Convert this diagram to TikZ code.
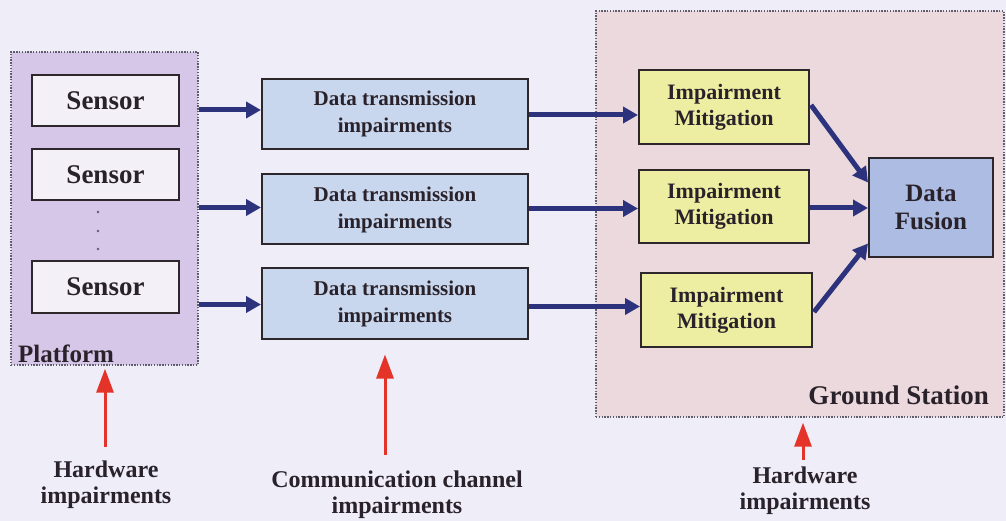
\documentclass[tikz,border=0pt]{standalone}
\usepackage{fontspec}
\setmainfont{Liberation Serif}
\usetikzlibrary{arrows.meta,calc}

\definecolor{bgcol}{RGB}{238,237,248}
\definecolor{platfill}{RGB}{214,198,232}
\definecolor{groundfill}{RGB}{236,217,222}
\definecolor{sensorfill}{RGB}{243,241,247}
\definecolor{dtfill}{RGB}{200,214,238}
\definecolor{imfill}{RGB}{238,238,162}
\definecolor{dffill}{RGB}{172,188,226}
\definecolor{boxline}{RGB}{45,38,42}
\definecolor{txt}{RGB}{42,34,42}
\definecolor{flowcol}{RGB}{44,50,124}
\definecolor{alertcol}{RGB}{228,52,42}
\definecolor{dotcol}{RGB}{95,95,108}

\begin{document}
\begin{tikzpicture}[x=1pt,y=-1pt,
  box/.style={draw=boxline, line width=2pt, inner sep=0pt, align=center, text=txt},
  sensorbox/.style={box, fill=sensorfill, minimum width=147pt, minimum height=51pt,
    font=\fontsize{27}{30}\selectfont\bfseries},
  dtbox/.style={box, fill=dtfill, minimum width=266pt, minimum height=70pt,
    font=\fontsize{21}{27}\selectfont\bfseries},
  imbox/.style={box, fill=imfill, minimum width=170pt, minimum height=74pt,
    font=\fontsize{22}{26}\selectfont\bfseries},
  dfbox/.style={box, fill=dffill, minimum width=124pt, minimum height=99pt,
    font=\fontsize{25}{28}\selectfont\bfseries},
  zone/.style={draw=dotcol, line width=1.4pt, dash pattern=on 1.4pt off 1.4pt, inner sep=0pt},
  zonelabel/.style={inner sep=0pt, text=txt},
  note/.style={align=center, inner sep=0pt, text=txt, font=\fontsize{24}{26}\selectfont\bfseries},
  flow/.style={draw=flowcol, line width=5pt, -{Triangle[length=15pt,width=16pt]}},
  alert/.style={draw=alertcol, line width=3pt, -{Triangle[length=24pt,width=17pt]}},
]
% canvas
\fill[bgcol] (0,0) rectangle (1006,521);
\useasboundingbox (0,0) rectangle (1006,521);

% containers
\node[zone, fill=platfill, minimum width=187pt, minimum height=313pt] (plat) at (104.5,208.5) {};
\node[zone, fill=groundfill, minimum width=408pt, minimum height=406pt] (ground) at (800,214) {};
\node[zonelabel, anchor=base west, font=\fontsize{25}{28}\selectfont\bfseries] (platlbl) at (18,362) {Platform};
\node[zonelabel, anchor=base east, font=\fontsize{27}{30}\selectfont\bfseries] (groundlbl) at (989,404) {Ground Station};

% sensors
\node[sensorbox] (s1) at (105.5,100.5) {Sensor};
\node[sensorbox] (s2) at (105.5,174.5) {Sensor};
\node[sensorbox] (s3) at (105.5,287) {Sensor};
\foreach \yy in {212,231,249} \fill[dotcol] (98,\yy) circle (1.4pt);

% channel
\node[dtbox] (dt1) at (395,114) {Data transmission\\impairments};
\node[dtbox] (dt2) at (395,209.5) {Data transmission\\impairments};
\node[dtbox] (dt3) at (395,303.5) {Data transmission\\impairments};

% ground processing
\node[imbox] (im1) at (724,107) {Impairment\\Mitigation};
\node[imbox, minimum height=73pt] (im2) at (724,206.5) {Impairment\\Mitigation};
\node[imbox, minimum width=171pt] (im3) at (726.5,310) {Impairment\\Mitigation};
\node[dfbox] (df) at (931,207.5) {Data\\Fusion};

% data flow
\draw[flow] (plat.east |- dt1.west) ++(0,-4) -- ($(dt1.west)+(0,-4)$);
\draw[flow] (plat.east |- dt2.west) ++(0,-2) -- ($(dt2.west)+(0,-2)$);
\draw[flow] (plat.east |- dt3.west) ++(0,1) -- ($(dt3.west)+(0,1)$);
\draw[flow] (dt1.east) ++(0,1) -- ($(dt1.east -| im1.west)+(0,1)$);
\draw[flow] (dt2.east) ++(0,-1) -- ($(dt2.east -| im2.west)+(0,-1)$);
\draw[flow] (dt3.east) ++(0,3) -- ($(dt3.east -| im3.west)+(0,3)$);
\draw[flow] ($(im1.east)+(1,-2)$) -- ($(df.west)+(0,-25)$);
\draw[flow] (im2.east) ++(0,1.5) -- ($(df.west)+(0,0.5)$);
\draw[flow] ($(im3.east)+(1,2)$) -- ($(df.west)+(0,36)$);

% impairment sources
\node[note] (hw1) at (106,485) {Hardware\\impairments};
\node[note] (cc) at (397,494.5) {Communication channel\\impairments};
\node[note] (hw2) at (805,490.5) {Hardware\\impairments};
\coordinate (a1) at (105,447);
\coordinate (a2) at (385,455);
\coordinate (a3) at (803,460);
\draw[alert, shorten >=3pt] (a1) -- (a1 |- plat.south);
\draw[alert, shorten >=15pt] (a2) -- (a2 |- dt3.south);
\draw[alert, shorten >=5pt] (a3) -- (a3 |- ground.south);
\end{tikzpicture}
\end{document}
